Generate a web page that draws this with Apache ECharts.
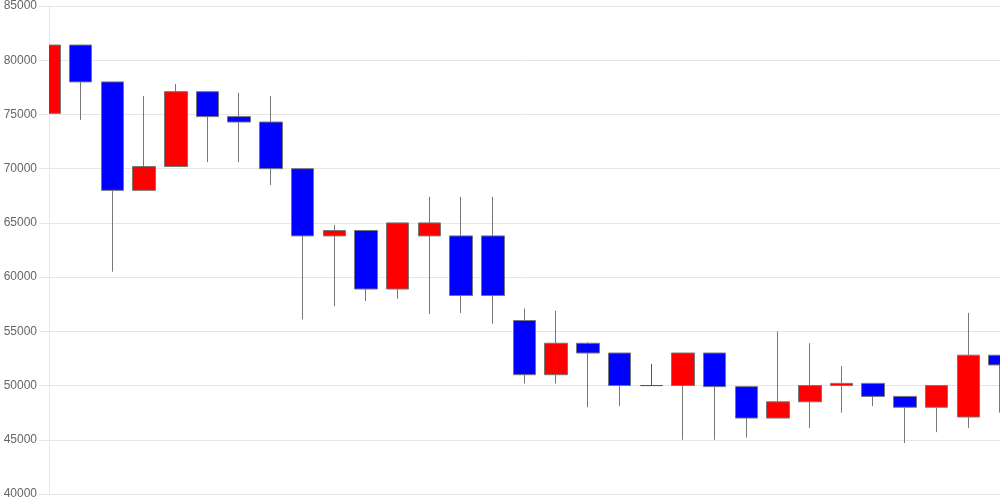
<!DOCTYPE html>
<html>
<head>
<meta charset="utf-8">
<script src="https://cdn.jsdelivr.net/npm/echarts@6/dist/echarts.min.js"></script>
<style>html,body{margin:0;padding:0;background:#fff}#c{width:1000px;height:500px}</style>
</head>
<body>
<div id="c"></div>
<script>
var categories = ['d1','d2','d3','d4','d5','d6','d7','d8','d9','d10','d11','d12','d13','d14','d15','d16','d17','d18','d19','d20','d21','d22','d23','d24','d25','d26','d27','d28','d29','d30','d31'];
var opens  = [75100,81400,78000,68000,70200,77100,74800,74300,70000,63800,64300,58900,63800,63800,63800,56000,51000,53900,53000,50000,50000,53000,49900,47000,48500,50000,50200,49000,48000,47100,52800];
var closes = [81400,78000,68000,70200,77100,74800,74300,70000,63800,64300,58900,65000,65000,58300,58300,51000,53900,53000,50000,50000,53000,49900,47000,48500,50000,50200,49000,48000,50000,52800,51900];
var lows   = [75100,74500,60500,68000,70200,70600,70600,68500,56100,57300,57800,58000,56600,56700,55700,50200,50200,48000,48100,50000,45000,45000,45200,47000,46100,47500,48100,44700,45700,46100,47500];
var highs  = [82900,81400,78000,76700,77800,77100,77000,76700,70000,64800,64300,65000,67400,67400,67400,57100,56900,54000,53000,52000,53000,53000,49900,55000,53900,51800,50200,49000,50000,56700,52800];

var data = categories.map(function(c, i){ return [opens[i], closes[i], lows[i], highs[i]]; });

var chart = echarts.init(document.getElementById('c'), null, {renderer:'canvas'});
chart.setOption({
  animation: false,
  grid: {left: 49, right: 0, top: 6, bottom: 6, containLabel: false},
  graphic: [{
    type: 'rect', left: 0, top: 0, z: 5,
    shape: {x: 0, y: 0, width: 49, height: 500},
    style: {fill: '#fff'}, silent: true
  }],
  xAxis: {
    type: 'category',
    data: categories,
    boundaryGap: false,
    axisLine: {show: false},
    axisTick: {show: false},
    axisLabel: {show: false},
    splitLine: {show: false}
  },
  yAxis: [{
    type: 'value',
    min: 40000, max: 85000, interval: 5000,
    axisLine: {show: true, lineStyle: {color: '#e6e6e6'}},
    axisTick: {show: false},
    axisLabel: {show: false},
    splitLine: {show: true, lineStyle: {color: '#e6e6e6'}}
  }, {
    type: 'value',
    position: 'left',
    z: 10,
    min: 40000, max: 85000, interval: 5000,
    axisLine: {show: false},
    axisTick: {show: true, length: 10, lineStyle: {color: '#e6e6e6'}},
    axisLabel: {color: '#666', fontSize: 12, fontFamily: 'Liberation Sans, Arial, sans-serif', margin: 12,
      formatter: function(v){ return String(v); }},
    splitLine: {show: false}
  }],
  series: [{
    type: 'candlestick',
    data: data,
    yAxisIndex: 0,
    barWidth: 23,
    clip: true,
    itemStyle: {
      color: '#ff0000',
      color0: '#0000ff',
      borderColor: '#777',
      borderColor0: '#777',
      borderColorDoji: '#555',
      borderWidth: 1
    }
  }]
});
</script>
</body>
</html>
